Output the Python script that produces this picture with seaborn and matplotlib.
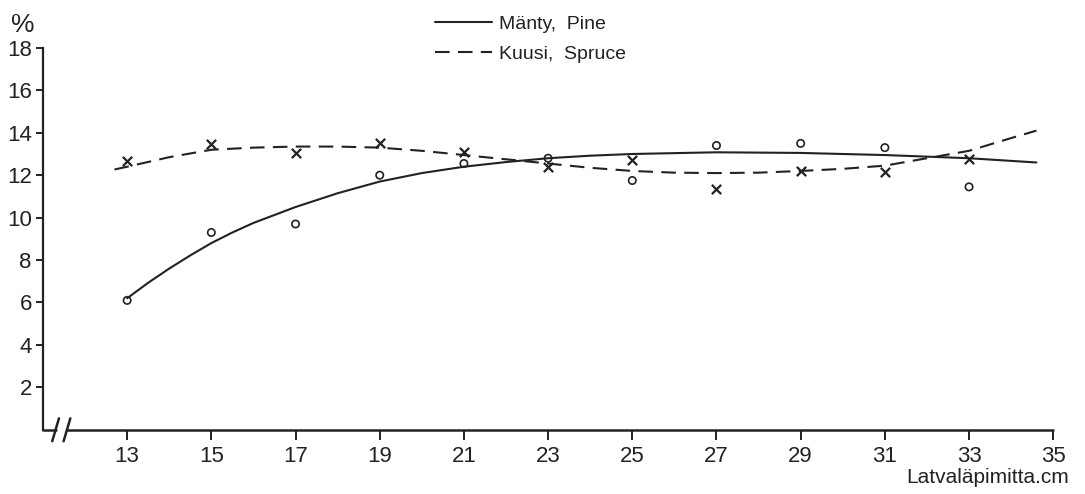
import numpy as np
import pandas as pd
import matplotlib
matplotlib.use("Agg")
import matplotlib.pyplot as plt
import seaborn as sb

# observed points (diameter classes, %)
diam = [13, 15, 17, 19, 21, 23, 25, 27, 29, 31, 33]
pine_pts = [6.1, 9.3, 9.7, 12.0, 12.55, 12.8, 11.75, 13.4, 13.5, 13.3, 11.45]
spruce_pts = [12.65, 13.45, 13.07, 13.5, 13.1, 12.4, 12.73, 11.37, 12.2, 12.17, 12.78]

# fitted curves
pine_cx = [13, 13.5, 14, 14.5, 15, 15.5, 16, 17, 18, 19, 20, 21, 22, 23, 24, 25,
           27, 29, 31, 33, 34.6]
pine_cy = [6.2, 6.93, 7.6, 8.22, 8.8, 9.3, 9.75, 10.5, 11.15, 11.7, 12.1, 12.4,
           12.62, 12.8, 12.92, 13.0, 13.08, 13.05, 12.95, 12.8, 12.6]
spruce_cx = [12.7, 13, 14, 15, 16, 17, 18, 19, 20, 21, 22, 23, 24, 25, 26, 27, 28,
             29, 30, 31, 32, 33, 34, 34.6]
spruce_cy = [12.27, 12.4, 12.85, 13.2, 13.3, 13.35, 13.35, 13.3, 13.15, 12.95, 12.75,
             12.55, 12.35, 12.2, 12.12, 12.1, 12.12, 12.2, 12.3, 12.45, 12.8, 13.15,
             13.75, 14.1]

xticks = [13, 15, 17, 19, 21, 23, 25, 27, 29, 31, 33, 35]
yticks = [2, 4, 6, 8, 10, 12, 14, 16, 18]

sb.set_style("ticks")
plt.rcParams['font.family'] = ['Liberation Sans', 'DejaVu Sans']
ink = "#222222"

fig = plt.figure(figsize=(10.85, 4.94), dpi=100)
ax = fig.add_axes([0.0396, 0.13, 0.9350, 0.773])

pts = pd.DataFrame({"x": diam + diam,
                    "y": pine_pts + spruce_pts,
                    "laji": ["pine"] * len(diam) + ["spruce"] * len(diam)})

sb.lineplot(x=pine_cx, y=pine_cy, ax=ax, color=ink, lw=1.5, label="Mänty,  Pine")
sb.lineplot(x=spruce_cx, y=spruce_cy, ax=ax, color=ink, lw=1.5,
            linestyle=(0, (7, 4)), label="Kuusi,  Spruce")
sb.scatterplot(data=pts[pts.laji == "pine"], x="x", y="y", ax=ax, marker="o",
               s=28, facecolor="none", edgecolor=ink, linewidth=1.2, legend=False)
sb.scatterplot(data=pts[pts.laji == "spruce"], x="x", y="y", ax=ax, marker="x",
               s=45, color=ink, linewidth=1.6, legend=False)

ax.set_xlim(11, 35.1)
ax.set_ylim(0, 18)
ax.set_xticks(xticks)
ax.set_yticks(yticks)
ax.tick_params(axis="both", direction="out", length=5, width=1.4, color=ink,
               labelsize=16, labelcolor=ink, pad=3)
ax.tick_params(axis="x", length=7.5, pad=4)
ax.set_xlabel("")
ax.set_ylabel("")
for s in ["top", "right"]:
    ax.spines[s].set_visible(False)
ax.spines["left"].set_color(ink)
ax.spines["left"].set_linewidth(1.6)
ax.spines["bottom"].set_visible(False)

# bottom axis with break marks
tr = ax.get_xaxis_transform()
ax.plot([11, 11.3], [0, 0], color=ink, lw=1.8, transform=tr, clip_on=False)
ax.plot([11.57, 35.0], [0, 0], color=ink, lw=1.8, transform=tr, clip_on=False)
for bx in [11.3, 11.57]:
    ax.plot([bx - 0.08, bx + 0.08], [-0.03, 0.03], color=ink, lw=1.8,
            transform=tr, clip_on=False)

fig.text(0.010, 0.935, "%", fontsize=19, color=ink)
fig.text(0.985, 0.022, "Latvaläpimitta.cm", fontsize=15, color=ink, ha="right")

leg = ax.legend(loc="upper left", bbox_to_anchor=(0.3885, 0.997),
                bbox_transform=fig.transFigure, frameon=False, fontsize=14,
                handlelength=2.95, handletextpad=0.35, labelspacing=0.65,
                borderaxespad=0.3)
for t in leg.get_texts():
    t.set_color(ink)

fig.savefig("out.png", dpi=100, facecolor="white")
